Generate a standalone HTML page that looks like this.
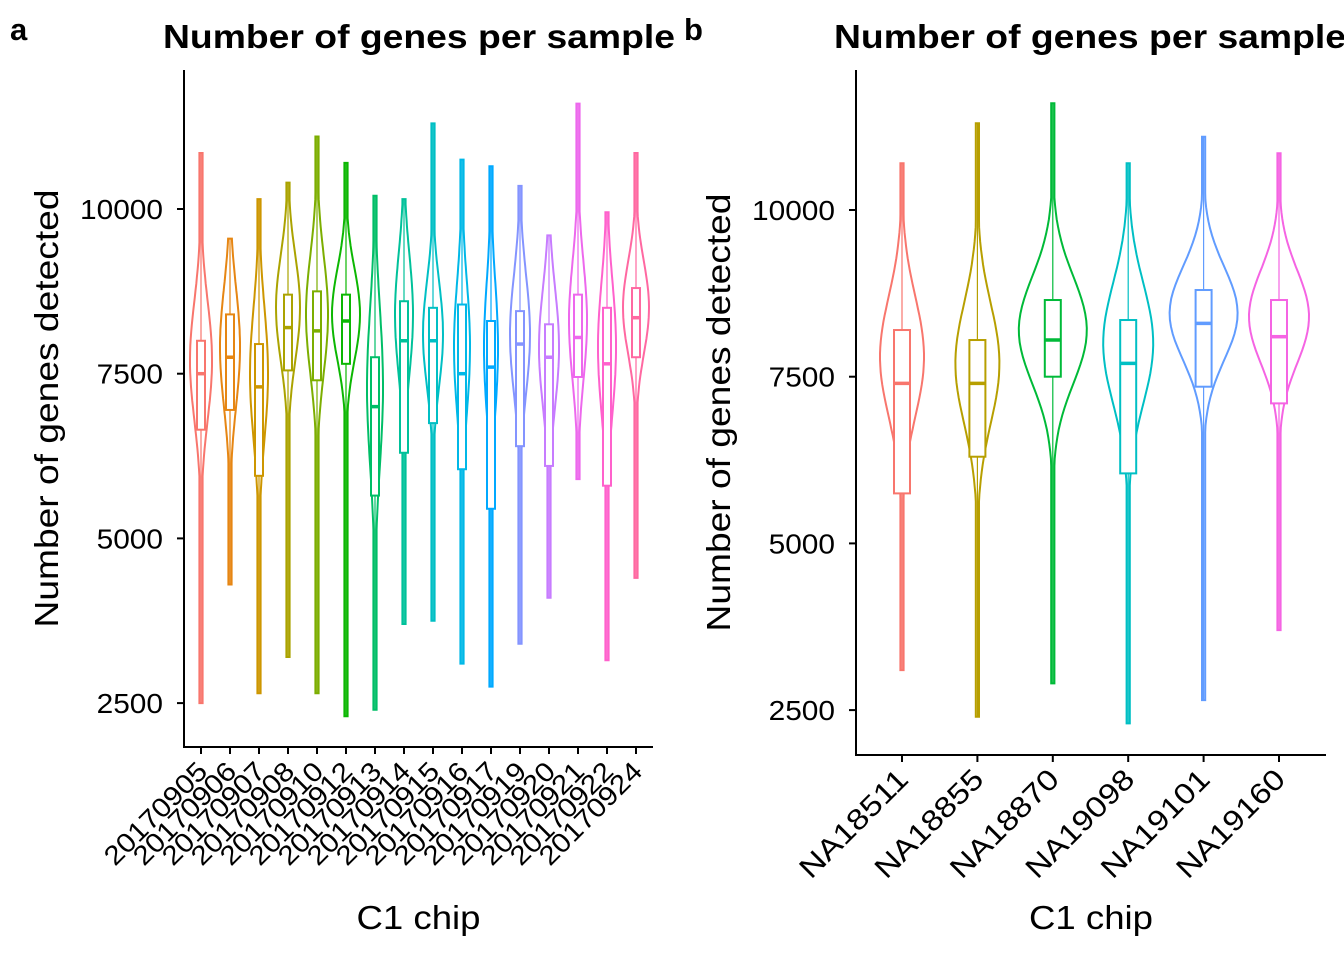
<!DOCTYPE html>
<html><head><meta charset="utf-8"><style>
html,body{margin:0;padding:0;background:#fff}
svg{display:block;font-family:"Liberation Sans",sans-serif}
</style></head><body>
<svg id="chart" width="1344" height="960" viewBox="0 0 1344 960">
<g id="pa"></g>
<g id="pb"></g>
</svg>
<script>
// Panel a data
const catsA = ["20170905","20170906","20170907","20170908","20170910","20170912","20170913","20170914","20170915","20170916","20170917","20170919","20170920","20170921","20170922","20170924"];
const minA = [2500,4300,2650,3200,2650,2300,2400,3700,3750,3100,2750,3400,4100,5900,3150,4400];
const maxA = [10850,9550,10150,10400,11100,10700,10200,10150,11300,10750,10650,10350,9600,11600,9950,10850];
const q1A = [6650,6950,5950,7550,7400,7650,5650,6300,6750,6050,5450,6400,6100,7450,5800,7750];
const medA = [7500,7750,7300,8200,8150,8300,7000,8000,8000,7500,7600,7950,7750,8050,7650,8350];
const q3A = [8000,8400,7950,8700,8750,8700,7750,8600,8500,8550,8300,8450,8250,8700,8500,8800];
const modeA = [7700,7900,7500,8500,8400,8400,7300,8400,8100,7900,7900,8100,7900,8300,7900,8500];
const sdA = [900,900,1000,800,900,700,1200,900,800,1000,1000,900,900,900,1000,700];
const widthA = [11,10,9,12,11,14,8,9,10,8,7,10,10,9,9,13];
const colA = ["#F8766D","#E68613","#CD9600","#ABA300","#7CAE00","#0CB702","#00BE67","#00C19A","#00BFC4","#00B8E7","#00A9FF","#8494FF","#C77CFF","#ED68ED","#FF61CC","#FF68A1"];
// Panel b data
const catsB = ["NA18511","NA18855","NA18870","NA19098","NA19101","NA19160"];
const minB = [3100,2400,2900,2300,2650,3700];
const maxB = [10700,11300,11600,10700,11100,10850];
const q1B = [5750,6300,7500,6050,7350,7100];
const medB = [7400,7400,8050,7700,8300,8100];
const q3B = [8200,8050,8650,8350,8800,8650];
const modeB = [7800,7700,8200,8000,8450,8400];
const sdB = [900,900,800,900,700,700];
const widthB = [22,22,34,25,34,30];
const colB = ["#F8766D","#B79F00","#00BA38","#00BFC4","#619CFF","#F564E3"];
const yTicks = [2500,5000,7500,10000];

const NS="http://www.w3.org/2000/svg";
function mk(parent,tag,attrs,text){const e=document.createElementNS(NS,tag);for(const k in attrs)e.setAttribute(k,attrs[k]);if(text!==undefined)e.textContent=text;parent.appendChild(e);return e;}

function panel(g,cfg){
  const {letter,cats,mins,maxs,q1,med,q3,mode,sd,wid,cols,x0,x1,yTop,yBot,xFirst,xStep,y10k,pxPer,boxW,titleX,letterX,letterY,labelSize,labelLen}=cfg;
  const Y=v=>y10k+(10000-v)*pxPer;
  const X=i=>xFirst+i*xStep;
  let t;
  t=mk(g,'text',{x:letterX,y:letterY,'font-size':31,'font-weight':'bold'},letter);
  
  
  t=mk(g,'text',{x:titleX,y:48,'font-size':33,'font-weight':'bold','text-anchor':'middle',textLength:512,lengthAdjust:'spacingAndGlyphs'},'Number of genes per sample');
  
  
  cats.forEach((c,i)=>{
    const cx=X(i);
    const vg=mk(g,'g',{});
    
    
    const n=80;let right=[],left=[];
    for(let k=0;k<=n;k++){
      const v=mins[i]+(maxs[i]-mins[i])*k/n;
      const z=(v-mode[i])/sd[i];
      let w=wid[i]*Math.exp(-0.5*z*z);
      w=Math.max(w,1.6);
      right.push([cx+w,Y(v)]);left.push([cx-w,Y(v)]);
    }
    const pts=right.concat(left.reverse());
    mk(vg,'path',{d:'M'+pts.map(p=>p[0].toFixed(1)+','+p[1].toFixed(1)).join('L')+'Z',fill:'none',stroke:cols[i],'stroke-width':2});
    const bw=boxW/2;
    mk(vg,'line',{x1:cx,x2:cx,y1:Y(maxs[i]),y2:Y(q3[i]),stroke:cols[i],'stroke-width':1.2});
    mk(vg,'line',{x1:cx,x2:cx,y1:Y(q1[i]),y2:Y(mins[i]),stroke:cols[i],'stroke-width':1.2});
    mk(vg,'rect',{x:cx-bw,y:Y(q3[i]),width:boxW,height:Y(q1[i])-Y(q3[i]),fill:'#fff',stroke:cols[i],'stroke-width':2});
    mk(vg,'line',{x1:cx-bw,x2:cx+bw,y1:Y(med[i]),y2:Y(med[i]),stroke:cols[i],'stroke-width':3.5});
  });
  t=mk(g,'line',{x1:x0,x2:x0,y1:yTop,y2:yBot+1,stroke:'#000','stroke-width':2});
  
  
  t=mk(g,'line',{x1:x0-1,x2:x1,y1:yBot,y2:yBot,stroke:'#000','stroke-width':2});
  
  
  yTicks.forEach(v=>{
    mk(g,'line',{x1:x0-7,x2:x0,y1:Y(v),y2:Y(v),stroke:'#000','stroke-width':2});
    const s=String(v);
    t=mk(g,'text',{x:x0-21,y:Y(v)+10,'font-size':28,'text-anchor':'end',textLength:s.length*16.6,lengthAdjust:'spacingAndGlyphs'},s);
    
    
  });
  cats.forEach((c,i)=>{
    const cx=X(i);
    mk(g,'line',{x1:cx,x2:cx,y1:yBot,y2:yBot+7,stroke:'#000','stroke-width':2});
    const tx=cx+8, ty=yBot+26;
    t=mk(g,'text',{x:tx,y:ty,'font-size':labelSize,'text-anchor':'end',textLength:labelLen,lengthAdjust:'spacingAndGlyphs',transform:`rotate(-45 ${tx} ${ty})`},c);
    
    
  });
  const ymid=(yTop+yBot)/2;
  const yx=x0-128;
  t=mk(g,'text',{x:yx,y:ymid+2,'font-size':33,'text-anchor':'middle',textLength:438,lengthAdjust:'spacingAndGlyphs',transform:`rotate(-90 ${yx} ${ymid})`},'Number of genes detected');
  
  
  t=mk(g,'text',{x:(x0+x1)/2,y:929,'font-size':33,'text-anchor':'middle',textLength:124,lengthAdjust:'spacingAndGlyphs'},'C1 chip');
  
  
}
panel(document.getElementById('pa'),{letter:'a',cats:catsA,mins:minA,maxs:maxA,q1:q1A,med:medA,q3:q3A,mode:modeA,sd:sdA,wid:widthA,cols:colA,
  x0:184,x1:653,yTop:70,yBot:747,xFirst:201,xStep:29,y10k:209,pxPer:164.7/2500,boxW:8,titleX:419,letterX:10,letterY:40,labelSize:27,labelLen:133});
panel(document.getElementById('pb'),{letter:'b',cats:catsB,mins:minB,maxs:maxB,q1:q1B,med:medB,q3:q3B,mode:modeB,sd:sdB,wid:widthB,cols:colB,
  x0:856,x1:1326,yTop:70,yBot:755,xFirst:902,xStep:75.4,y10k:210,pxPer:166.7/2500,boxW:16,titleX:1090,letterX:684,letterY:40,labelSize:29,labelLen:140});
</script>
</body></html>
